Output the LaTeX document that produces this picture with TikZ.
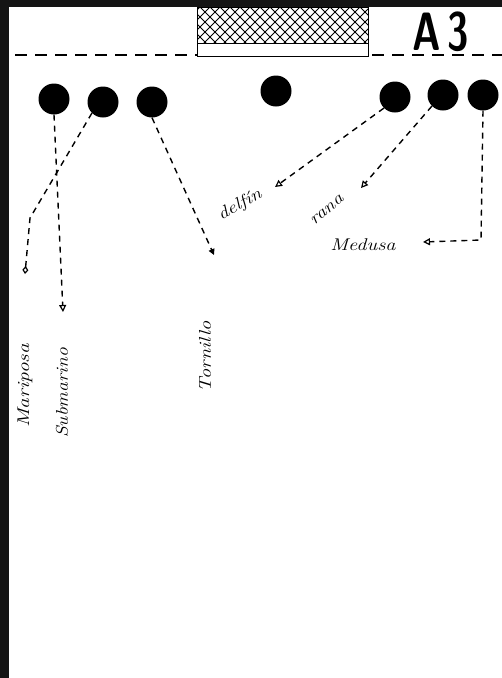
\documentclass[tikz,border=0pt]{standalone}
\usepackage{graphicx}
\usetikzlibrary{arrows.meta}
\begin{document}
\begin{tikzpicture}[x=1pt,y=-1pt,
  dot/.style={circle,fill=black,minimum size=31pt,inner sep=0pt},
  mv/.style={dash pattern=on 6pt off 5pt,line width=1.4pt},
  lbl/.style={inner sep=0pt,font=\itshape\fontsize{17}{17}\selectfont},
  opentri/.style={-{Triangle[open,length=7pt,width=7pt,line width=1.2pt]}},
  filltri/.style={-{Triangle[length=6pt,width=6pt]}},
  opendia/.style={-{Diamond[open,length=8pt,width=6pt,line width=1.2pt]}}]
\useasboundingbox (0,0) rectangle (502,678);
\fill[white] (0,0) rectangle (502,678);
% frame edges
\fill[black!92] (0,0) rectangle (502,7);
\fill[black!92] (0,0) rectangle (9,678);
% goal / hatched area
\begin{scope}
  \clip (197,7) rectangle (368,43);
  \foreach \i in {-40,-30,...,380} {
    \draw[line width=0.9pt] (\i,7) -- ++(40,40);
    \draw[line width=0.9pt] (\i,47) -- ++(40,-40);
  }
\end{scope}
\draw[line width=1pt] (197,7) rectangle (368,56);
\draw[line width=1pt] (197,43) -- (368,43);
% dashed line
\draw[line width=1.3pt,dash pattern=on 12pt off 8pt] (15,55) -- (197,55);
\draw[line width=1.3pt,dash pattern=on 12pt off 8pt] (372,55) -- (502,55);
% title
\node[inner sep=0pt] (title) at (441,32) {\scalebox{0.72}[1]{\fontsize{54}{54}\selectfont\bfseries\sffamily A\,3}};
% players
\node[dot] (d1) at (54,99) {};
\node[dot] (d2) at (103,102) {};
\node[dot] (d3) at (152,102) {};
\node[dot] (d4) at (276,91) {};
\node[dot] (d5) at (395,97) {};
\node[dot] (d6) at (443,95) {};
\node[dot] (d7) at (483,95) {};
% end points
\coordinate (subend) at (63,312);
\coordinate (marbend) at (30,218);
\coordinate (marend) at (25,274);
\coordinate (torend) at (214,255);
\coordinate (delend) at (275,187);
\coordinate (ranaend) at (361,188);
\coordinate (medbend) at (481,240);
\coordinate (medend) at (423,242);
% connectors
\draw[mv,opentri] (d1.south) -- (subend);
\draw[mv,opendia] (d2.south west) -- (marbend) -- (marend);
\draw[mv,filltri] (d3.south) -- (torend);
\draw[mv,opentri] (d5.south west) -- (delend);
\draw[mv,opentri] (d6.south west) -- (ranaend);
\draw[mv,opentri] (d7.south) -- (medbend) -- (medend);
% labels
\node[lbl,rotate=90] (mariposa) at (25,386) {\scalebox{1.25}[1]{Mariposa}};
\node[lbl,rotate=90] (submarino) at (62,393) {\scalebox{1.15}[1]{Submarino}};
\node[lbl,rotate=90] (tornillo) at (205,357) {\scalebox{1.2}[1]{Tornillo}};
\node[lbl,rotate=30] (delfin) at (240,205) {\scalebox{1.2}[1]{delfín}};
\node[lbl,rotate=40] (rana) at (327,210) {\scalebox{1.2}[1]{rana}};
\node[lbl] (medusa) at (363,245) {\scalebox{1.2}[1]{Medusa}};
\end{tikzpicture}
\end{document}
